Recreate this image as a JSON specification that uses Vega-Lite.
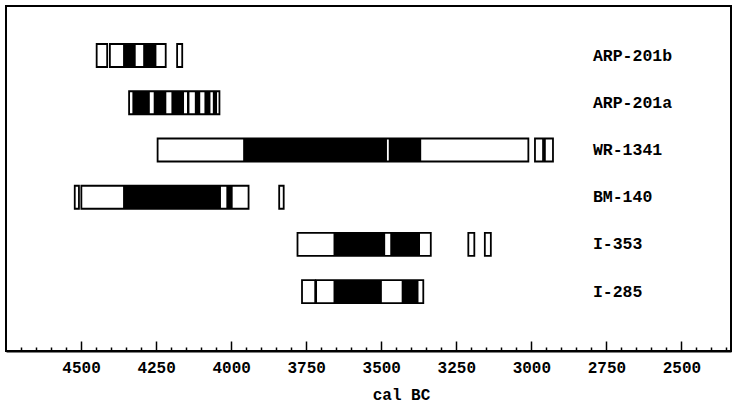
{
  "$schema": "https://vega.github.io/schema/vega-lite/v6.json",
  "width": 725,
  "height": 345,
  "autosize": "none",
  "padding": {"left": 6, "top": 6, "right": 8, "bottom": 58},
  "background": "white",
  "config": {
    "view": {"stroke": "black", "strokeWidth": 2},
    "font": "Liberation Mono"
  },
  "datasets": {
    "bars": [
      {"sample": "ARP-201b", "type": "range", "start": 4448, "end": 4413},
      {"sample": "ARP-201b", "type": "range", "start": 4404, "end": 4218},
      {"sample": "ARP-201b", "type": "range", "start": 4180, "end": 4163},
      {"sample": "ARP-201a", "type": "range", "start": 4340, "end": 4039},
      {"sample": "WR-1341", "type": "range", "start": 4245, "end": 3010},
      {"sample": "WR-1341", "type": "range", "start": 2988, "end": 2961},
      {"sample": "WR-1341", "type": "range", "start": 2955, "end": 2928},
      {"sample": "BM-140", "type": "range", "start": 4521, "end": 4507},
      {"sample": "BM-140", "type": "range", "start": 4499, "end": 3942},
      {"sample": "BM-140", "type": "range", "start": 3840, "end": 3825},
      {"sample": "I-353", "type": "range", "start": 3779, "end": 3335},
      {"sample": "I-353", "type": "range", "start": 3210, "end": 3190},
      {"sample": "I-353", "type": "range", "start": 3155, "end": 3135},
      {"sample": "I-285", "type": "range", "start": 3764, "end": 3720},
      {"sample": "I-285", "type": "range", "start": 3717, "end": 3360},
      {"sample": "ARP-201b", "type": "peak", "start": 4360, "end": 4318},
      {"sample": "ARP-201b", "type": "peak", "start": 4293, "end": 4249},
      {"sample": "ARP-201a", "type": "peak", "start": 4329, "end": 4271},
      {"sample": "ARP-201a", "type": "peak", "start": 4258, "end": 4216},
      {"sample": "ARP-201a", "type": "peak", "start": 4199, "end": 4157},
      {"sample": "ARP-201a", "type": "peak", "start": 4147, "end": 4139},
      {"sample": "ARP-201a", "type": "peak", "start": 4121, "end": 4103},
      {"sample": "ARP-201a", "type": "peak", "start": 4089, "end": 4069},
      {"sample": "ARP-201a", "type": "peak", "start": 4061, "end": 4047},
      {"sample": "WR-1341", "type": "peak", "start": 3960, "end": 3481},
      {"sample": "WR-1341", "type": "peak", "start": 3475, "end": 3367},
      {"sample": "BM-140", "type": "peak", "start": 4360, "end": 4034},
      {"sample": "BM-140", "type": "peak", "start": 4016, "end": 3995},
      {"sample": "I-353", "type": "peak", "start": 3659, "end": 3487},
      {"sample": "I-353", "type": "peak", "start": 3470, "end": 3371},
      {"sample": "I-285", "type": "peak", "start": 3659, "end": 3498},
      {"sample": "I-285", "type": "peak", "start": 3432, "end": 3376}
    ],
    "labels": [
      {"sample": "ARP-201b"},
      {"sample": "ARP-201a"},
      {"sample": "WR-1341"},
      {"sample": "BM-140"},
      {"sample": "I-353"},
      {"sample": "I-285"}
    ]
  },
  "encoding": {
    "y": {
      "field": "sample",
      "type": "nominal",
      "sort": ["ARP-201b", "ARP-201a", "WR-1341", "BM-140", "I-353", "I-285"],
      "scale": {"paddingInner": 0.513, "paddingOuter": 0.908, "align": 0.443},
      "axis": null
    }
  },
  "resolve": {"axis": {"x": "independent"}},
  "layer": [
    {
      "data": {"name": "bars"},
      "transform": [{"filter": "datum.type === 'range'"}],
      "mark": {"type": "rect", "fill": "white", "stroke": "black", "strokeWidth": 1.8},
      "encoding": {
        "x": {
          "field": "start",
          "type": "quantitative",
          "scale": {"domain": [4750, 2335], "nice": false, "zero": false},
          "axis": {
            "orient": "bottom",
            "grid": false,
            "values": [4500, 4250, 4000, 3750, 3500, 3250, 3000, 2750, 2500],
            "format": "d",
            "tickSize": -10,
            "tickColor": "black",
            "tickWidth": 1.5,
            "domainColor": "black",
            "domainWidth": 2,
            "labelFont": "Liberation Mono",
            "labelFontSize": 16,
            "labelFontWeight": "bold",
            "labelColor": "black",
            "labelBaseline": "middle",
            "labelPadding": 26,
            "labelFlush": false,
            "labelOverlap": false,
            "title": "cal BC",
            "titleFont": "Liberation Mono",
            "titleFontSize": 16,
            "titleFontWeight": "bold",
            "titleColor": "black",
            "titleAlign": "center",
            "titleBaseline": "middle",
            "titleX": 395,
            "titleY": 43
          }
        },
        "x2": {"field": "end"}
      }
    },
    {
      "data": {"name": "bars"},
      "transform": [{"filter": "datum.type === 'peak'"}],
      "mark": {"type": "rect", "fill": "black"},
      "encoding": {
        "x": {
          "field": "start",
          "type": "quantitative",
          "axis": {
            "orient": "bottom",
            "grid": false,
            "values": [4700,4650,4600,4550,4450,4400,4350,4300,4200,4150,4100,4050,3950,3900,3850,3800,3700,3650,3600,3550,3450,3400,3350,3300,3200,3150,3100,3050,2950,2900,2850,2800,2700,2650,2600,2550,2450,2400,2350],
            "labels": false,
            "domain": false,
            "title": null,
            "tickSize": -4,
            "tickColor": "black",
            "tickWidth": 1.5
          }
        },
        "x2": {"field": "end"}
      }
    },
    {
      "data": {"name": "labels"},
      "mark": {"type": "text", "align": "left", "baseline": "middle", "font": "Liberation Mono", "fontSize": 16.5, "fontWeight": "bold", "color": "black"},
      "encoding": {
        "x": {"datum": 2795, "type": "quantitative", "axis": null},
        "text": {"field": "sample"}
      }
    }
  ]
}
